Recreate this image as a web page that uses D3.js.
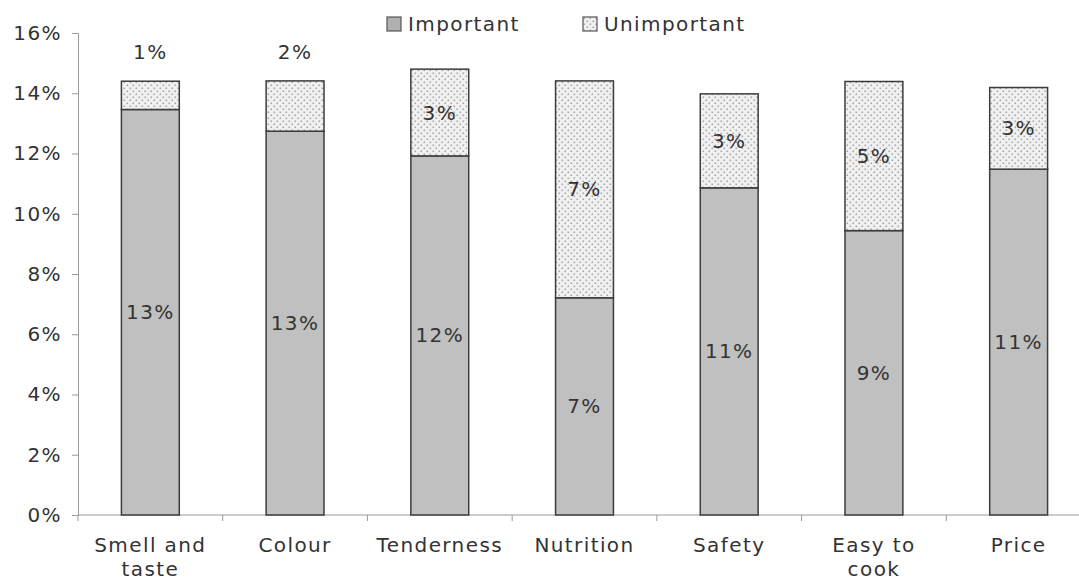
<!DOCTYPE html>
<html>
<head>
<meta charset="utf-8">
<script src="https://cdn.jsdelivr.net/npm/d3@7"></script>
<style>
  html, body { margin: 0; padding: 0; background: #fff; }
  svg { display: block; font-family: "DejaVu Sans", Verdana, sans-serif; }
  svg text { letter-spacing: 1.4px; }
</style>
</head>
<body>
<svg id="chart" width="1079" height="581"></svg>
<script>
// ---- data ----
const categories = ["Smell and\ntaste", "Colour", "Tenderness", "Nutrition", "Safety", "Easy to\ncook", "Price"];
const important   = [13.46, 12.74, 11.92, 7.21, 10.86, 9.44, 11.48];
const unimportant = [0.94, 1.67, 2.88, 7.20, 3.12, 4.95, 2.71];
const seriesNames = ["Important", "Unimportant"];
const yTicks = [0, 2, 4, 6, 8, 10, 12, 14, 16];

(function () {
// ---- layout ----
const svg = d3.select("#chart");
const pLeft = 78, pRight = 1091, pTop = 33, pBottom = 515;
const fontSize = 20;
const textColor = "#333333";

const x = d3.scaleBand().domain(categories).range([pLeft, pRight]).paddingInner(0.6).paddingOuter(0.3);
const y = d3.scaleLinear().domain([0, 16]).range([pBottom, pTop]);

// pattern for Unimportant
const defs = svg.append("defs");
const pat = defs.append("pattern").attr("id", "dots").attr("patternUnits", "userSpaceOnUse")
  .attr("width", 6).attr("height", 6);
pat.append("rect").attr("width", 6).attr("height", 6).attr("fill", "#f1f1f1");
pat.append("rect").attr("x", 0.5).attr("y", 0.5).attr("width", 1.6).attr("height", 1.6).attr("fill", "#a8a8a8");
pat.append("rect").attr("x", 3.5).attr("y", 3.5).attr("width", 1.6).attr("height", 1.6).attr("fill", "#a8a8a8");

// y axis
const yAxis = d3.axisLeft(y).tickValues(yTicks).tickFormat(d => d + "%").tickSize(6).tickPadding(10);
const gy = svg.append("g").attr("transform", `translate(${pLeft},0)`).call(yAxis);
gy.select(".domain").attr("stroke", "#9a9a9a");
gy.selectAll(".tick line").attr("stroke", "#9a9a9a");
gy.selectAll(".tick text").attr("fill", textColor).style("font-size", fontSize + "px").style("font-family", "DejaVu Sans, Verdana, sans-serif");

// x axis line and ticks between categories
svg.append("line").attr("x1", pLeft).attr("x2", 1079).attr("y1", pBottom).attr("y2", pBottom).attr("stroke", "#9a9a9a");
const boundaries = d3.range(categories.length + 1).map(i => pLeft + i * x.step());
svg.selectAll(".xtick").data(boundaries).enter().append("line")
  .attr("x1", d => d).attr("x2", d => d).attr("y1", pBottom).attr("y2", pBottom + 6).attr("stroke", "#9a9a9a");

// category labels
const catG = svg.selectAll(".cat").data(categories).enter().append("text")
  .attr("x", d => x(d) + x.bandwidth() / 2).attr("y", pBottom + 37)
  .attr("text-anchor", "middle").attr("fill", textColor).style("font-size", fontSize + "px");
catG.each(function(d) {
  const lines = d.split("\n");
  const t = d3.select(this);
  lines.forEach((ln, i) => {
    t.append("tspan").attr("x", x(d) + x.bandwidth() / 2).attr("dy", i === 0 ? 0 : 24).text(ln);
  });
});

// bars
const rows = categories.map((c, i) => ({ c, imp: important[i], un: unimportant[i] }));
const bw = x.bandwidth();
const g = svg.append("g");
g.selectAll(".imp").data(rows).enter().append("rect")
  .attr("x", d => x(d.c)).attr("width", bw)
  .attr("y", d => y(d.imp)).attr("height", d => y(0) - y(d.imp))
  .attr("fill", "#c0c0c0").attr("stroke", "#3c3c3c").attr("stroke-width", 1.5);
g.selectAll(".un").data(rows).enter().append("rect")
  .attr("x", d => x(d.c)).attr("width", bw)
  .attr("y", d => y(d.imp + d.un)).attr("height", d => y(d.imp) - y(d.imp + d.un))
  .attr("fill", "url(#dots)").attr("stroke", "#3c3c3c").attr("stroke-width", 1.5);

// value labels
g.selectAll(".limp").data(rows).enter().append("text")
  .attr("x", d => x(d.c) + bw / 2).attr("y", d => (y(0) + y(d.imp)) / 2)
  .attr("dy", "0.35em").attr("text-anchor", "middle").attr("fill", textColor)
  .style("font-size", fontSize + "px").text(d => Math.round(d.imp) + "%");
g.selectAll(".lun").data(rows).enter().append("text")
  .attr("x", d => x(d.c) + bw / 2)
  .attr("y", d => {
    const h = y(d.imp) - y(d.imp + d.un);
    return h < 60 ? y(d.imp + d.un) - 29 : (y(d.imp) + y(d.imp + d.un)) / 2;
  })
  .attr("dy", "0.35em").attr("text-anchor", "middle").attr("fill", textColor)
  .style("font-size", fontSize + "px").text(d => Math.round(d.un) + "%");

// legend
const legendX = [387, 583];
const lg = svg.selectAll(".leg").data(seriesNames).enter().append("g")
  .attr("transform", (d, i) => `translate(${legendX[i]},17)`);
lg.append("rect").attr("width", 14).attr("height", 14)
  .attr("fill", (d, i) => i === 0 ? "#b0b0b0" : "url(#dots)").attr("stroke", "#555").attr("stroke-width", 1.2);
lg.append("text").attr("x", 21).attr("y", 7).attr("dy", "0.35em").attr("fill", textColor)
  .style("font-size", fontSize + "px").text(d => d);
})();
</script>
</body>
</html>
